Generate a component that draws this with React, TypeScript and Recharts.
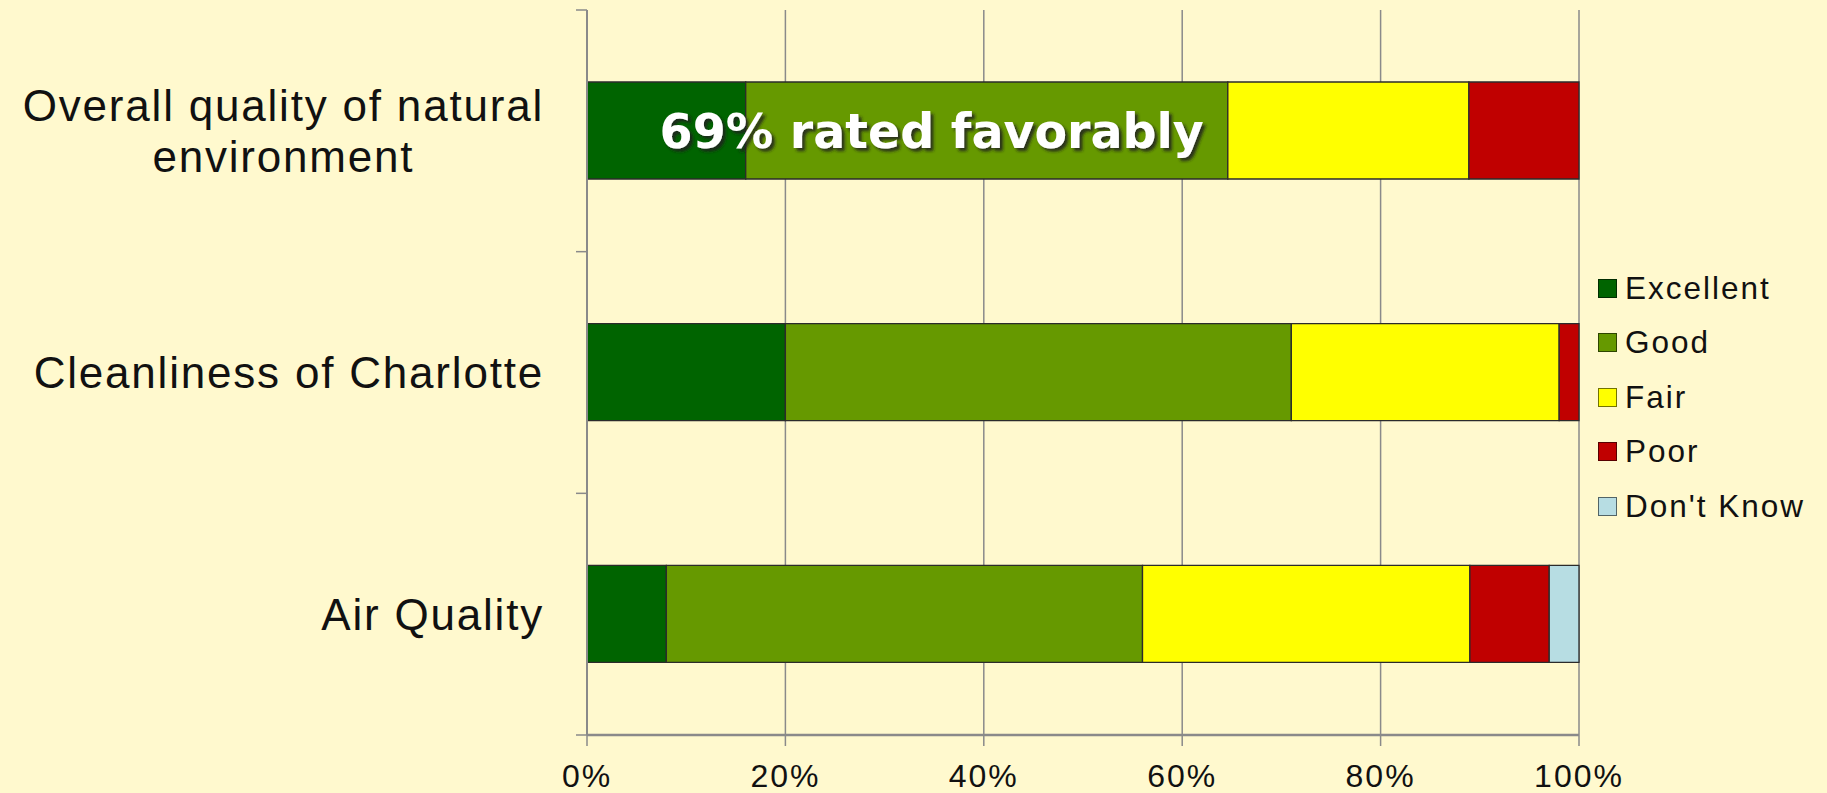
import React from 'react';
import { BarChart, Bar, XAxis, YAxis, CartesianGrid, Legend, LabelList } from 'recharts';

const categories = ['Overall quality of natural environment', 'Cleanliness of Charlotte', 'Air Quality'];
const categoryLines = [['Overall quality of natural', 'environment'], ['Cleanliness of Charlotte'], ['Air Quality']];
const excellent = [16, 20, 8];
const good = [48.6, 51, 48];
const fair = [24.3, 27, 33];
const poor = [11.1, 2, 8];
const dontKnow = [0, 0, 3];
const seriesKeys = ['excellent', 'good', 'fair', 'poor', 'dontKnow'];
const seriesNames = ['Excellent', 'Good', 'Fair', 'Poor', "Don't Know"];
const seriesColors = ['#006400', '#669900', '#FFFF00', '#C00000', '#B7DDE3'];
const xTicks = [0, 20, 40, 60, 80, 100];
const annotation = '69% rated favorably';

const data = categories.map((name, i) => ({
  name,
  excellent: excellent[i],
  good: good[i],
  fair: fair[i],
  poor: poor[i],
  dontKnow: dontKnow[i],
}));

const W = 1827;
const H = 793;
const BG = '#FFF9CE';
const FONT = "'Liberation Sans', Arial, sans-serif";
const GRID = '#8a8a8a';
const TEXT = '#111';
const TOP = 10;
const XAXIS_H = 58;
const PLOT_H = H - TOP - XAXIS_H;
const LEGEND_W = 237;

let ctx: CanvasRenderingContext2D | null = null;
function measure(text: string, size: number, ls: number) {
  if (!ctx) ctx = document.createElement('canvas').getContext('2d');
  if (!ctx) return text.length * size * 0.5;
  ctx.font = `${size}px ${FONT}`;
  return ctx.measureText(text).width + ls * text.length;
}

const CAT_SIZE = 44;
const CAT_LS = 1.8;

const CatTick = (props: any) => {
  const { x, y, index } = props;
  const axisX = x + 43;
  const band = PLOT_H / categories.length;
  const lines = categoryLines[index] || [String(props.payload?.value ?? '')];
  const lh = 50.7;
  const widths = lines.map((l) => measure(l, CAT_SIZE, CAT_LS));
  const maxW = Math.max(...widths);
  const cx = x - maxW / 2;
  const startY = y + 15.8 - ((lines.length - 1) * lh) / 2;
  return (
    <g>
      <line x1={axisX - 11} x2={axisX} y1={y - band / 2} y2={y - band / 2} stroke={GRID} strokeWidth={1.5} />
      {index === categories.length - 1 && (
        <line x1={axisX - 11} x2={axisX} y1={y + band / 2} y2={y + band / 2} stroke={GRID} strokeWidth={1.5} />
      )}
      {lines.map((l, i) => (
        <text
          key={i}
          x={lines.length > 1 ? cx : x}
          y={startY + i * lh}
          textAnchor={lines.length > 1 ? 'middle' : 'end'}
          fontFamily={FONT}
          fontSize={CAT_SIZE}
          letterSpacing={CAT_LS}
          fill={TEXT}
        >
          {l}
        </text>
      ))}
    </g>
  );
};

const renderLegend = () => (
  <div style={{ fontFamily: FONT, fontSize: 31.5, letterSpacing: 2, color: TEXT }}>
    {seriesNames.map((n, i) => (
      <div key={n} style={{ height: 54.5, display: 'flex', alignItems: 'center' }}>
        <span
          style={{
            display: 'inline-block',
            width: 19,
            height: 19,
            background: seriesColors[i],
            border: '1.5px solid rgba(0,0,0,0.55)',
            boxSizing: 'border-box',
            marginLeft: 8,
            marginRight: 8,
            flexShrink: 0,
          }}
        />
        <span style={{ whiteSpace: 'nowrap' }}>{n}</span>
      </div>
    ))}
  </div>
);

const renderAnnotation = (p: any) => {
  if (p.index !== 0) return null;
  const x = Number(p.x) + Number(p.width) - 24;
  const y = Number(p.y) + Number(p.height) / 2 + 17.5;
  return (
    <g>
      <defs>
        <filter id="annShadow" x="-10%" y="-30%" width="120%" height="160%">
          <feDropShadow dx="3" dy="3" stdDeviation="1.5" floodColor="#1a1a1a" floodOpacity="0.85" />
        </filter>
      </defs>
      <text
        x={x}
        y={y}
        textAnchor="end"
        fontFamily="'DejaVu Sans', Verdana, sans-serif"
        fontWeight="bold"
        fontSize={47.5}
        fill="#ffffff"
        filter="url(#annShadow)"
      >
        {annotation}
      </text>
    </g>
  );
};

export default function App() {
  return (
    <div style={{ position: 'fixed', left: 0, top: 0, width: W, height: H, background: BG }}>
      <BarChart
        width={W}
        height={H}
        data={data}
        layout="vertical"
        margin={{ top: TOP, right: 248 - LEGEND_W, bottom: 0, left: 0 }}
        barSize={97}
      >
        <CartesianGrid horizontal={false} stroke={GRID} strokeWidth={1.5} />
        <XAxis
          type="number"
          domain={[0, 100]}
          ticks={xTicks}
          tickFormatter={(v: number) => `${v}%`}
          height={XAXIS_H}
          tickSize={11}
          tickMargin={18}
          axisLine={{ stroke: GRID, strokeWidth: 2.5 }}
          tickLine={{ stroke: GRID, strokeWidth: 1.5 }}
          tick={{ fill: TEXT, fontSize: 32, fontFamily: FONT, letterSpacing: 2 }}
        />
        <YAxis
          type="category"
          dataKey="name"
          width={587}
          tickSize={0}
          tickMargin={43}
          tickLine={false}
          axisLine={{ stroke: GRID, strokeWidth: 2 }}
          tick={<CatTick />}
          interval={0}
        />
        <Legend
          layout="vertical"
          align="right"
          verticalAlign="top"
          content={renderLegend}
          wrapperStyle={{ top: 261, right: 0, width: LEGEND_W }}
        />
        {seriesKeys.map((k, i) => (
          <Bar
            key={k}
            dataKey={k}
            name={seriesNames[i]}
            stackId="a"
            fill={seriesColors[i]}
            stroke="#2b2b2b"
            strokeWidth={1.3}
            isAnimationActive={false}
          >
            {k === 'good' && <LabelList dataKey="good" content={renderAnnotation} />}
          </Bar>
        ))}
      </BarChart>
    </div>
  );
}
